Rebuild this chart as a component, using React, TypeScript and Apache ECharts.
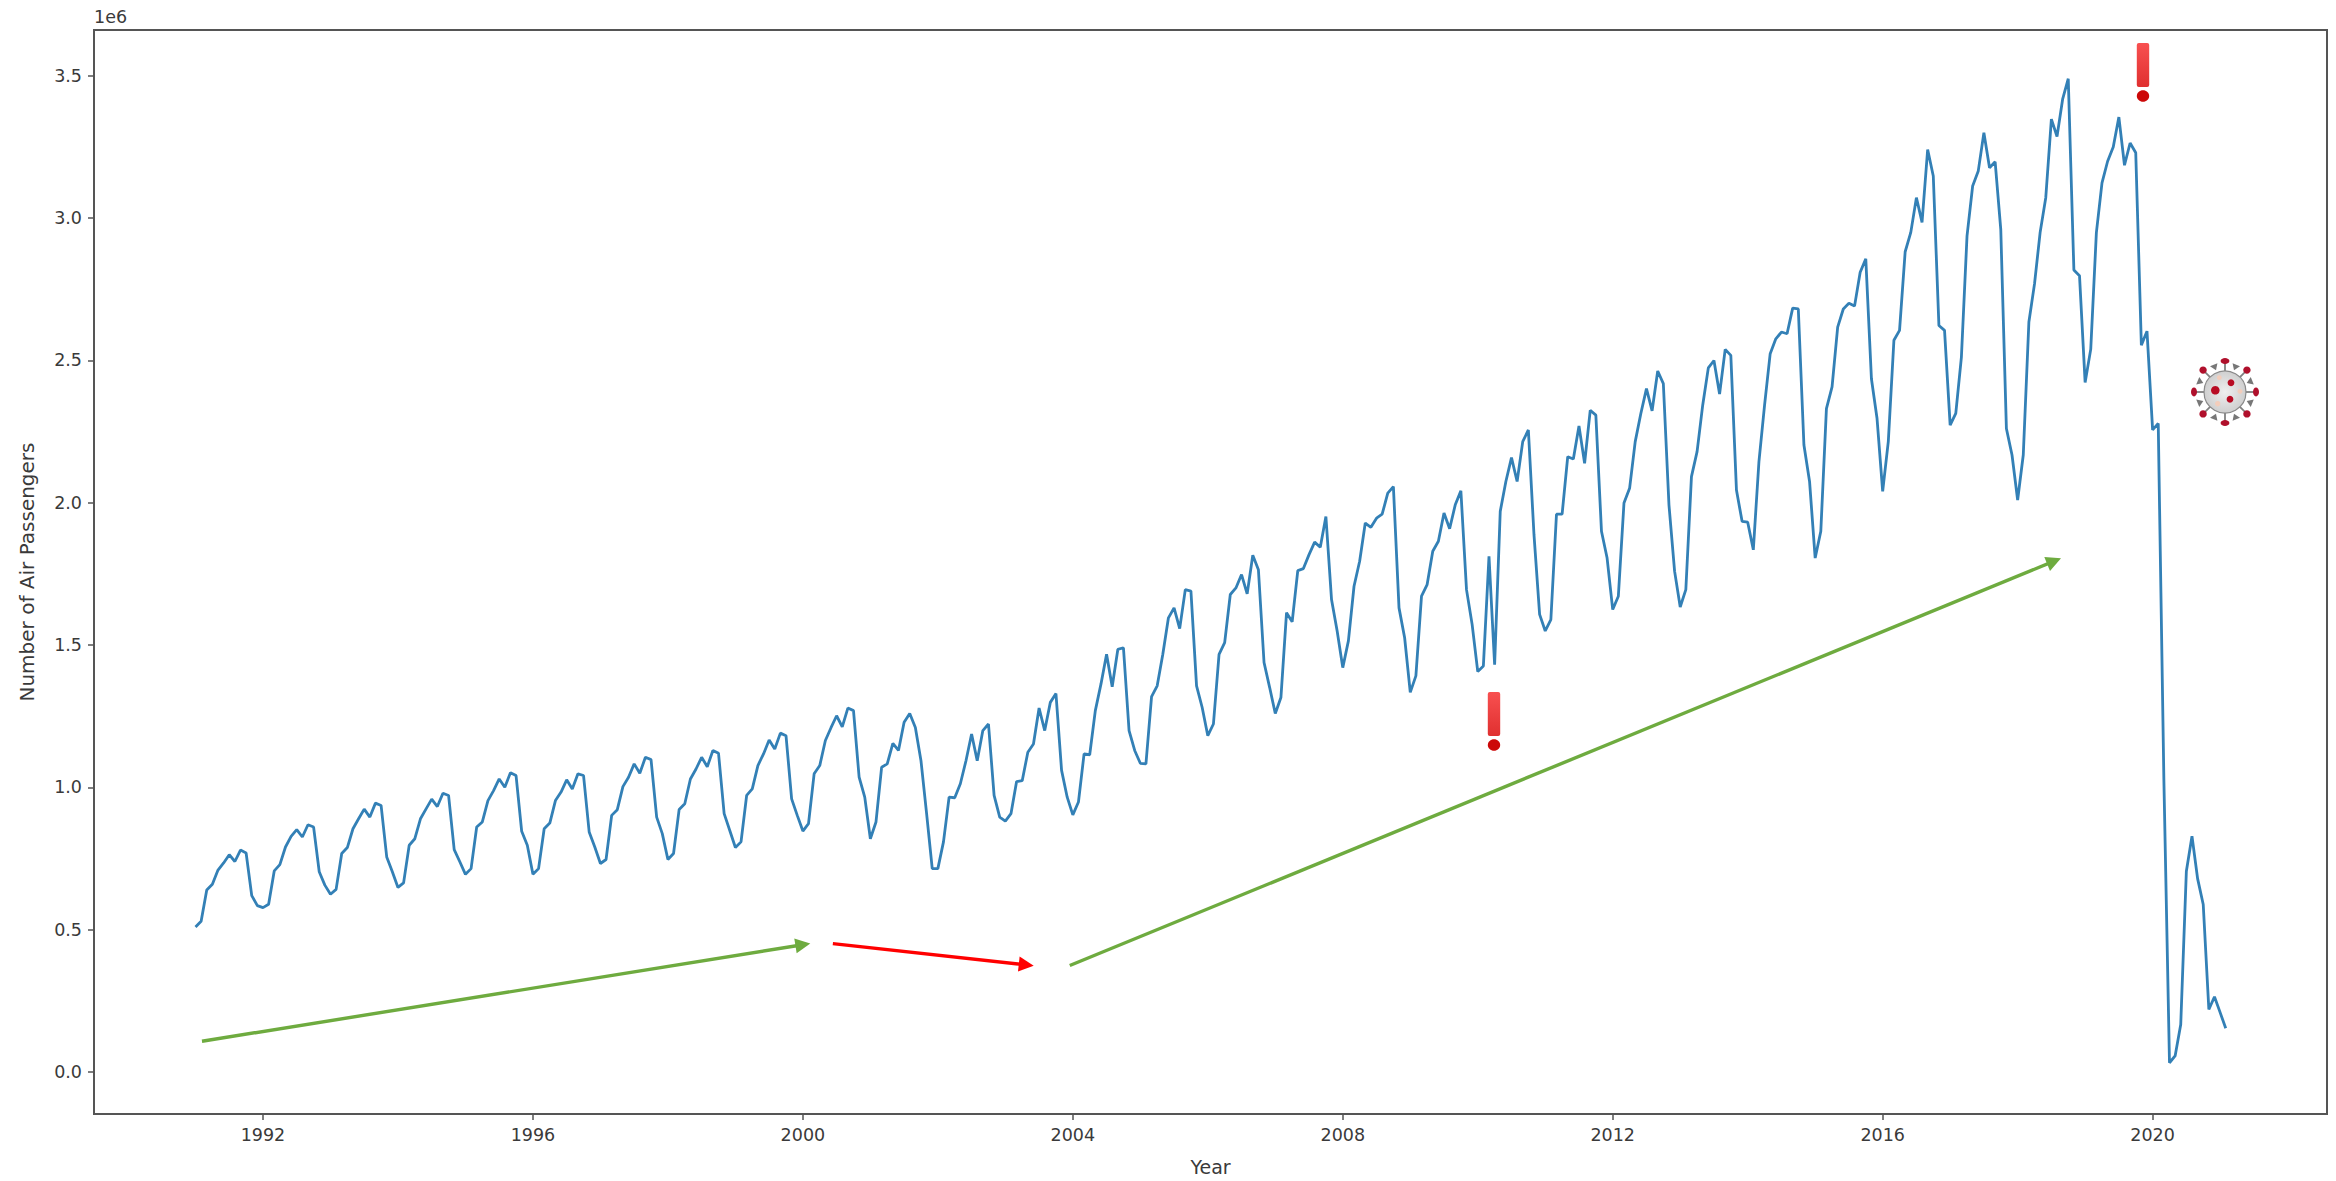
import React, { useEffect, useRef } from "react";
import * as echarts from "echarts";

// Monthly air passengers, in millions (1e6), Jan..Dec of each year
const y1991 = [0.51, 0.53, 0.64, 0.66, 0.71, 0.735, 0.764, 0.74, 0.78, 0.77, 0.62, 0.585];
const y1992 = [0.578, 0.59, 0.707, 0.729, 0.791, 0.828, 0.852, 0.826, 0.869, 0.861, 0.704, 0.657];
const y1993 = [0.625, 0.642, 0.768, 0.789, 0.855, 0.89, 0.924, 0.896, 0.945, 0.937, 0.756, 0.704];
const y1994 = [0.649, 0.665, 0.797, 0.82, 0.89, 0.925, 0.959, 0.933, 0.98, 0.972, 0.782, 0.739];
const y1995 = [0.695, 0.715, 0.861, 0.879, 0.954, 0.989, 1.03, 1.001, 1.052, 1.042, 0.846, 0.797];
const y1996 = [0.695, 0.715, 0.855, 0.875, 0.954, 0.984, 1.027, 0.995, 1.048, 1.042, 0.844, 0.791];
const y1997 = [0.733, 0.747, 0.902, 0.922, 1.003, 1.036, 1.083, 1.05, 1.106, 1.098, 0.896, 0.838];
const y1998 = [0.747, 0.768, 0.923, 0.943, 1.03, 1.065, 1.106, 1.073, 1.13, 1.12, 0.908, 0.849];
const y1999 = [0.789, 0.809, 0.972, 0.995, 1.077, 1.118, 1.167, 1.135, 1.191, 1.182, 0.96, 0.902];
const y2000 = [0.847, 0.873, 1.048, 1.077, 1.165, 1.21, 1.252, 1.213, 1.279, 1.27, 1.036, 0.966];
const y2001 = [0.82, 0.879, 1.071, 1.083, 1.155, 1.13, 1.229, 1.26, 1.211, 1.094, 0.908, 0.715];
const y2002 = [0.715, 0.809, 0.966, 0.964, 1.013, 1.094, 1.188, 1.094, 1.2, 1.223, 0.972, 0.896];
const y2003 = [0.882, 0.908, 1.021, 1.024, 1.124, 1.153, 1.279, 1.2, 1.299, 1.33, 1.06, 0.966];
const y2004 = [0.904, 0.949, 1.118, 1.115, 1.27, 1.363, 1.468, 1.354, 1.485, 1.491, 1.2, 1.13];
const y2005 = [1.085, 1.083, 1.319, 1.357, 1.468, 1.596, 1.631, 1.558, 1.695, 1.69, 1.357, 1.281];
const y2006 = [1.182, 1.223, 1.468, 1.509, 1.678, 1.701, 1.748, 1.68, 1.816, 1.765, 1.439, 1.351];
const y2007 = [1.26, 1.316, 1.614, 1.582, 1.762, 1.769, 1.818, 1.862, 1.844, 1.952, 1.66, 1.55];
const y2008 = [1.421, 1.515, 1.707, 1.795, 1.929, 1.914, 1.946, 1.96, 2.034, 2.057, 1.631, 1.526];
const y2009 = [1.334, 1.392, 1.672, 1.713, 1.83, 1.865, 1.964, 1.909, 1.993, 2.042, 1.695, 1.573];
const y2010 = [1.407, 1.427, 1.812, 1.431, 1.97, 2.075, 2.159, 2.075, 2.215, 2.256, 1.888, 1.608];
const y2011 = [1.55, 1.59, 1.96, 1.96, 2.162, 2.154, 2.27, 2.139, 2.325, 2.308, 1.9, 1.806];
const y2012 = [1.625, 1.672, 1.999, 2.051, 2.215, 2.314, 2.401, 2.323, 2.463, 2.419, 1.993, 1.76];
const y2013 = [1.634, 1.695, 2.092, 2.18, 2.343, 2.474, 2.5, 2.382, 2.539, 2.518, 2.045, 1.935];
const y2014 = [1.932, 1.835, 2.145, 2.343, 2.524, 2.576, 2.6, 2.594, 2.684, 2.681, 2.203, 2.075];
const y2015 = [1.806, 1.9, 2.331, 2.407, 2.617, 2.681, 2.701, 2.691, 2.81, 2.857, 2.436, 2.296];
const y2016 = [2.04, 2.215, 2.571, 2.606, 2.882, 2.95, 3.072, 2.985, 3.241, 3.148, 2.623, 2.606];
const y2017 = [2.273, 2.314, 2.512, 2.938, 3.113, 3.166, 3.3, 3.177, 3.198, 2.961, 2.261, 2.168];
const y2018 = [2.01, 2.168, 2.635, 2.769, 2.95, 3.072, 3.348, 3.287, 3.418, 3.49, 2.818, 2.798];
const y2019 = [2.423, 2.54, 2.949, 3.124, 3.2, 3.25, 3.355, 3.186, 3.264, 3.23, 2.554, 2.603];
const y2020 = [2.256, 2.279, 1.03, 0.033, 0.057, 0.167, 0.706, 0.829, 0.68, 0.589, 0.22, 0.265];
const y2021 = [0.21, 0.154];

const years = [
  y1991, y1992, y1993, y1994, y1995, y1996, y1997, y1998, y1999, y2000, y2001,
  y2002, y2003, y2004, y2005, y2006, y2007, y2008, y2009, y2010, y2011, y2012,
  y2013, y2014, y2015, y2016, y2017, y2018, y2019, y2020, y2021,
];
const firstYear = 1991;

const xTicks = [1992, 1996, 2000, 2004, 2008, 2012, 2016, 2020];
const yTicks = [0, 0.5, 1, 1.5, 2, 2.5, 3, 3.5];

// Trend arrows: [startYear, startValue, endYear, endValue]
const arrowUpEarly = [1991.096, 0.1085, 2000.0, 0.4475];
const arrowDown = [2000.444, 0.4515, 2003.31, 0.377];
const arrowUpLate = [2003.955, 0.3745, 2018.54, 1.795];

const GREEN = "#6EAB3F";
const RED = "#FF0000";
const TEXT = "#3A3A3A";
const AXIS = "#555555";
const FONT = "'DejaVu Sans', sans-serif";

function exclamation(cx: number, top: number) {
  return [
    {
      type: "rect",
      shape: { x: cx - 6.2, y: top, width: 12.4, height: 44, r: 2 },
      style: {
        fill: new echarts.graphic.LinearGradient(0, 0, 0, 1, [
          { offset: 0, color: "#F85050" },
          { offset: 1, color: "#E03030" },
        ]),
      },
    },
    {
      type: "ellipse",
      shape: { cx, cy: top + 53, rx: 6.2, ry: 5.8 },
      style: { fill: "#CC0808" },
    },
  ];
}

function virus(cx: number, cy: number) {
  const out: any[] = [];
  for (let i = 0; i < 8; i++) {
    const a = (i * Math.PI) / 4;
    const c = Math.cos(a);
    const s = Math.sin(a);
    out.push({
      type: "line",
      shape: { x1: cx + 20 * c, y1: cy + 20 * s, x2: cx + 30 * c, y2: cy + 30 * s },
      style: { stroke: "#808080", lineWidth: 1.8 },
    });
    const b = a + Math.PI / 8;
    const bc = Math.cos(b);
    const bs = Math.sin(b);
    out.push({
      type: "polygon",
      shape: {
        points: [
          [cx + 23.5 * bc, cy + 23.5 * bs],
          [cx + 29.5 * bc - 4 * bs, cy + 29.5 * bs + 4 * bc],
          [cx + 29.5 * bc + 4 * bs, cy + 29.5 * bs - 4 * bc],
        ],
      },
      style: { fill: "#777777" },
    });
  }
  out.push({
    type: "circle",
    shape: { cx, cy, r: 21 },
    style: {
      fill: new echarts.graphic.RadialGradient(0.5, 0.5, 0.5, [
        { offset: 0, color: "#EFEFEF" },
        { offset: 1, color: "#CFCFCF" },
      ]),
      stroke: "#8A8A8A",
      lineWidth: 1.2,
    },
  });
  for (let i = 0; i < 8; i++) {
    const a = (i * Math.PI) / 4;
    const horizontal = i % 4 === 0;
    const vertical = i % 4 === 2;
    out.push({
      type: "ellipse",
      shape: {
        cx: cx + 31 * Math.cos(a),
        cy: cy + 31 * Math.sin(a),
        rx: vertical ? 4.4 : horizontal ? 3 : 3.7,
        ry: vertical ? 3 : horizontal ? 4.4 : 3.7,
      },
      style: { fill: "#B0102C" },
    });
  }
  const dots: [number, number, number, string][] = [
    [-9.7, -1.7, 4.3, "#B80C24"],
    [6, -9.3, 3.4, "#B80C24"],
    [5, 7.3, 3.4, "#B80C24"],
    [-5.7, -14.3, 2.4, "#F3CDBB"],
    [15, -0.7, 2.4, "#F3CDBB"],
    [-7.3, 11.7, 2.7, "#F3CDBB"],
  ];
  dots.forEach(([dx, dy, r, fill]) =>
    out.push({ type: "circle", shape: { cx: cx + dx, cy: cy + dy, r }, style: { fill } }),
  );
  return out;
}

function arrowLine(a: number[], color: string) {
  return [
    { coord: [a[0], a[1]], lineStyle: { color, width: 3.4, type: "solid" } },
    { coord: [a[2], a[3]] },
  ];
}

export default function App() {
  const ref = useRef<HTMLDivElement>(null);
  useEffect(() => {
    document.body.style.margin = "0";
    const chart = echarts.init(ref.current!, undefined, { renderer: "svg" });
    const points: [number, number][] = [];
    years.forEach((vals, i) =>
      vals.forEach((v, m) => points.push([firstYear + i + m / 12, v])),
    );
    chart.setOption({
      animation: false,
      backgroundColor: "#ffffff",
      textStyle: { fontFamily: FONT },
      grid: {
        left: 94,
        right: 9,
        top: 30,
        bottom: 63,
        show: true,
        borderColor: AXIS,
        borderWidth: 2,
        backgroundColor: "transparent",
      },
      xAxis: {
        type: "value",
        min: 1989.496,
        max: 2022.584,
        name: "Year",
        nameLocation: "middle",
        nameGap: 43,
        nameTextStyle: { fontSize: 19, color: TEXT, fontFamily: FONT },
        splitLine: { show: false },
        axisLine: { show: true, onZero: false, lineStyle: { color: AXIS, width: 2 } },
        axisTick: { show: true, length: 6, customValues: xTicks, lineStyle: { color: AXIS, width: 1.5 } },
        axisLabel: {
          customValues: xTicks,
          fontSize: 17.5,
          color: TEXT,
          fontFamily: FONT,
          margin: 12,
          formatter: (v: number) => String(Math.round(v)),
        },
      },
      yAxis: {
        type: "value",
        min: -0.147,
        max: 3.661,
        name: "Number of Air Passengers",
        nameLocation: "middle",
        nameGap: 57,
        nameTextStyle: { fontSize: 20, color: TEXT, fontFamily: FONT },
        splitLine: { show: false },
        axisLine: { show: true, onZero: false, lineStyle: { color: AXIS, width: 2 } },
        axisTick: { show: true, length: 6, customValues: yTicks, lineStyle: { color: AXIS, width: 1.5 } },
        axisLabel: {
          customValues: yTicks,
          fontSize: 17.5,
          color: TEXT,
          fontFamily: FONT,
          margin: 12,
          formatter: (v: number) => v.toFixed(1),
        },
      },
      series: [
        {
          type: "line",
          data: points,
          showSymbol: false,
          smooth: false,
          lineStyle: { color: "#3380B6", width: 2.8 },
          markLine: {
            silent: true,
            animation: false,
            symbol: ["none", "triangle"],
            symbolSize: 15,
            label: { show: false },
            data: [
              arrowLine(arrowUpEarly, GREEN),
              arrowLine(arrowDown, RED),
              arrowLine(arrowUpLate, GREEN),
            ],
          },
        },
      ],
      graphic: [
        {
          type: "text",
          x: 94,
          y: 8,
          style: { text: "1e6", fontSize: 17.5, fontFamily: FONT, fill: TEXT },
        },
        ...exclamation(1494, 692),
        ...exclamation(2143, 43),
        ...virus(2225, 392),
      ],
    });
    return () => chart.dispose();
  }, []);
  return (
    <div
      ref={ref}
      style={{ position: "absolute", left: 0, top: 0, width: 2336, height: 1181 }}
    />
  );
}
